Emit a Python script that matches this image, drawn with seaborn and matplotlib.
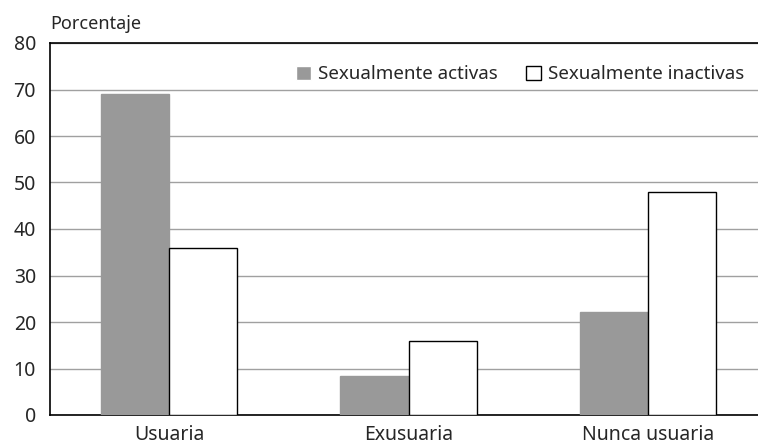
import pandas as pd
import matplotlib.pyplot as plt
import seaborn as sns

# Values
categorias = ['Usuaria', 'Exusuaria', 'Nunca usuaria']
activas = [69.0, 8.4, 22.2]
inactivas = [36.0, 16.0, 48.0]
grupos = ['Sexualmente activas', 'Sexualmente inactivas']
yticks = [0, 10, 20, 30, 40, 50, 60, 70, 80]

data = pd.DataFrame({
    'categoria': categorias * 2,
    'grupo': [grupos[0]] * 3 + [grupos[1]] * 3,
    'porcentaje': activas + inactivas,
})

sns.set_style('white')
plt.rcParams['font.family'] = ['Noto Sans', 'DejaVu Sans']

fig = plt.figure(figsize=(7.58, 4.47), dpi=100)
ax = fig.add_axes([50 / 758, 32 / 447, 708 / 758, 372 / 447])

sns.barplot(x='categoria', y='porcentaje', hue='grupo', data=data, ax=ax,
            palette={grupos[0]: '#999999', grupos[1]: 'white'},
            width=0.57, gap=0, errorbar=None, saturation=1, zorder=3)

for bar in ax.containers[0]:
    bar.set_edgecolor('#999999')
for bar in ax.containers[1]:
    bar.set_edgecolor('black')
    bar.set_linewidth(1)

ax.set_ylim(0, 80)
ax.set_xlim(-0.498, 2.46)
ax.set_yticks(yticks)
ax.yaxis.grid(True, color='#a0a0a0', linewidth=1, zorder=0)
ax.set_axisbelow(True)
ax.tick_params(axis='both', length=0, labelsize=14)
ax.tick_params(axis='x', pad=7)
ax.tick_params(axis='y', pad=10)
ax.set_xlabel('')
ax.set_ylabel('')

for side in ['left', 'bottom', 'top']:
    ax.spines[side].set_color('black')
    ax.spines[side].set_linewidth(1.2)
ax.spines['right'].set_visible(False)

handles, labels = ax.get_legend_handles_labels()
handles[1].set_edgecolor('black')
ax.legend(handles, labels, loc='upper right', bbox_to_anchor=(1.005, 0.985),
          ncol=2, frameon=False, fontsize=13.5, handlelength=0.8, handleheight=0.8,
          handletextpad=0.4, columnspacing=1.5)

fig.text(50 / 758, 1 - 24 / 447, 'Porcentaje', fontsize=13, va='center', ha='left')

plt.savefig('out.png', dpi=100)
